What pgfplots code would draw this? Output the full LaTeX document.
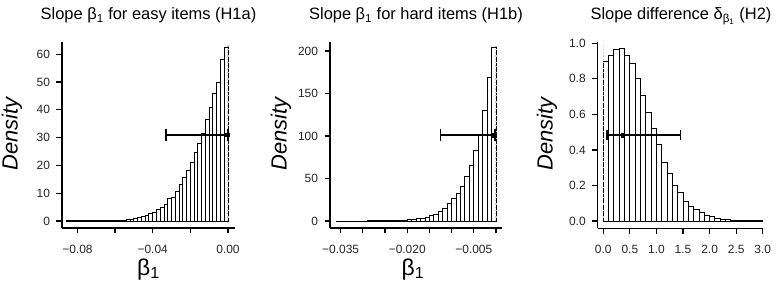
\documentclass[border=0pt]{standalone}
\usepackage{fontspec}
\setmainfont{Liberation Sans}
\usepackage{pgfplots}
\pgfplotsset{compat=1.18}

\pgfplotsset{rstyle/.style={
  scale only axis, anchor=south west,
  axis lines=left, axis line style={-, line width=1.2pt},
  tick align=outside, major tick length=5.5bp,
  every tick/.style={black, line width=1.2pt},
  minor tick num=0,
  scaled ticks=false,
  ticklabel style={font=\fontsize{12}{13}\selectfont, text=black!85},
  xticklabel style={yshift=-8bp},
  yticklabel style={xshift=-3bp},
}}
\pgfplotsset{histo/.style={ybar interval, draw=black, fill=white, line width=0.95pt}}

\begin{document}
\begin{tikzpicture}
\path[use as bounding box] (0,0) rectangle (779bp,287bp);

% ---------- Panel 1 ----------
\begin{axis}[rstyle, at={(62bp,59bp)}, width=173bp, height=186bp,
  xmin=-0.0882, xmax=0.00372, ymin=-2.52, ymax=64.4,
  xtick={-0.08,-0.06,-0.04,-0.02,0}, xticklabels={−0.08,,−0.04,,0.00},
  ytick={0,10,20,30,40,50,60}, yticklabels={0,10,20,30,40,50,60}]
\addplot[histo] coordinates {
(-0.086,0.01) (-0.084,0.01) (-0.082,0.01) (-0.080,0.02) (-0.078,0.02)
(-0.076,0.03) (-0.074,0.04) (-0.072,0.05) (-0.070,0.06) (-0.068,0.08)
(-0.066,0.10) (-0.064,0.12) (-0.062,0.15) (-0.060,0.20) (-0.058,0.25)
(-0.056,0.35) (-0.054,0.45) (-0.052,0.6) (-0.050,0.9) (-0.048,1.2)
(-0.046,1.5) (-0.044,2.0) (-0.042,2.6) (-0.040,3.2) (-0.038,4.0)
(-0.036,5.0) (-0.034,6.0) (-0.032,8.2) (-0.030,8.5) (-0.028,10.5)
(-0.026,13.0) (-0.024,15.5) (-0.022,18.0) (-0.020,21.0) (-0.018,24.5)
(-0.016,28.0) (-0.014,31.5) (-0.012,36.5) (-0.010,41.0) (-0.008,46.0)
(-0.006,50.0) (-0.004,58.0) (-0.002,62.4) (0.000,0)};
\addplot[gray!45, dotted, line width=1.3pt] coordinates {(0,0) (0,63.5)};
\addplot[black, dashed, line width=0.7pt] coordinates {(0,0) (0,62.4)};
\addplot[black, line width=1.6pt] coordinates {(-0.0331,31) (0,31)};
\addplot[black, line width=1.6pt] coordinates {(-0.0331,28.8) (-0.0331,33.2)};
\addplot[black, line width=1.6pt] coordinates {(0,28.8) (0,33.2)};
\addplot[black, only marks, mark=square*, mark size=1.8bp] coordinates {(-0.0005,31)};
\end{axis}

% ---------- Panel 2 ----------
\begin{axis}[rstyle, at={(330bp,59bp)}, width=171.7bp, height=186.3bp,
  xmin=-0.03739, xmax=0.00128, ymin=-8.2, ymax=211,
  xtick={-0.035,-0.030,-0.025,-0.020,-0.015,-0.010,-0.005,0},
  xticklabels={−0.035,,,−0.020,,,−0.005,},
  ytick={0,50,100,150,200}, yticklabels={0,50,100,150,200}]
\addplot[histo] coordinates {
(-0.036,0.01) (-0.035,0.02) (-0.034,0.02) (-0.033,0.03) (-0.032,0.04)
(-0.031,0.05) (-0.030,0.06) (-0.029,0.08) (-0.028,0.1) (-0.027,0.15)
(-0.026,0.2) (-0.025,0.25) (-0.024,0.35) (-0.023,0.5) (-0.022,0.7)
(-0.021,1.0) (-0.020,1.3) (-0.019,1.8) (-0.018,2.5) (-0.017,3.3)
(-0.016,4.5) (-0.015,6.0) (-0.014,8.0) (-0.013,11.0) (-0.012,15.0)
(-0.011,20.8) (-0.010,26.0) (-0.009,33.0) (-0.008,41.0) (-0.007,53.0)
(-0.006,65.0) (-0.005,83.0) (-0.004,101.0) (-0.003,130.0) (-0.002,169.0)
(-0.001,204.0) (0.000,0)};
\addplot[gray!45, dotted, line width=1.3pt] coordinates {(0,0) (0,206)};
\addplot[black, dashed, line width=0.7pt] coordinates {(0,0) (0,204)};
\addplot[black, line width=1.6pt] coordinates {(-0.01254,101) (-0.0002,101)};
\addplot[black, line width=1.6pt] coordinates {(-0.01254,94) (-0.01254,108)};
\addplot[black, line width=1.6pt] coordinates {(-0.0002,94) (-0.0002,108)};
\addplot[black, only marks, mark=square*, mark size=1.8bp] coordinates {(-0.0005,101)};
\end{axis}

% ---------- Panel 3 ----------
\begin{axis}[rstyle, at={(597.7bp,58.7bp)}, width=165.6bp, height=186.6bp,
  xmin=-0.105, xmax=3.01, ymin=-0.041, ymax=1.009,
  xtick={0,0.5,1,1.5,2,2.5,3}, xticklabels={0.0,0.5,1.0,1.5,2.0,2.5,3.0},
  ytick={0,0.2,0.4,0.6,0.8,1.0}, yticklabels={0.0,0.2,0.4,0.6,0.8,1.0}]
\addplot[histo] coordinates {
(0.0,0.897) (0.1,0.934) (0.2,0.966) (0.3,0.972) (0.4,0.929)
(0.5,0.887) (0.6,0.800) (0.7,0.709) (0.8,0.610) (0.9,0.518)
(1.0,0.430) (1.1,0.330) (1.2,0.265) (1.3,0.200) (1.4,0.160)
(1.5,0.110) (1.6,0.080) (1.7,0.066) (1.8,0.050) (1.9,0.032)
(2.0,0.024) (2.1,0.015) (2.2,0.010) (2.3,0.007) (2.4,0.005)
(2.5,0.003) (2.6,0.002) (2.7,0.001) (2.8,0.001) (2.9,0.0005) (3.0,0)};
\addplot[gray!45, dotted, line width=1.3pt] coordinates {(0,0) (0,0.985)};
\addplot[black, dashed, line width=0.7pt] coordinates {(0,0) (0,0.897)};
\addplot[black, line width=1.6pt] coordinates {(0.075,0.484) (1.45,0.484)};
\addplot[black, line width=1.6pt] coordinates {(0.075,0.455) (0.075,0.513)};
\addplot[black, line width=1.6pt] coordinates {(1.45,0.455) (1.45,0.513)};
\addplot[black, only marks, mark=square*, mark size=1.8bp] coordinates {(0.364,0.484)};
\end{axis}

% ---------- Titles and labels ----------
\node[anchor=base, font=\fontsize{16.5}{18}\selectfont] at (148.5bp,267bp) {Slope β\textsubscript{1} for easy items (H1a)};
\node[anchor=base, font=\fontsize{16.5}{18}\selectfont] at (416bp,267bp) {Slope β\textsubscript{1} for hard items (H1b)};
\node[anchor=base, font=\fontsize{16.5}{18}\selectfont] at (681bp,267bp) {Slope difference δ\textsubscript{β\textsubscript{1}} (H2)};

\node[rotate=90, font=\fontsize{22}{24}\selectfont\itshape] at (12bp,153bp) {Density};
\node[rotate=90, font=\fontsize{22}{24}\selectfont\itshape] at (281bp,153bp) {Density};
\node[rotate=90, font=\fontsize{22}{24}\selectfont\itshape] at (547bp,153bp) {Density};

\node[anchor=base, font=\fontsize{23}{25}\selectfont] at (148.5bp,12bp) {β\textsubscript{1}};
\node[anchor=base, font=\fontsize{23}{25}\selectfont] at (413bp,12bp) {β\textsubscript{1}};
\end{tikzpicture}
\end{document}
